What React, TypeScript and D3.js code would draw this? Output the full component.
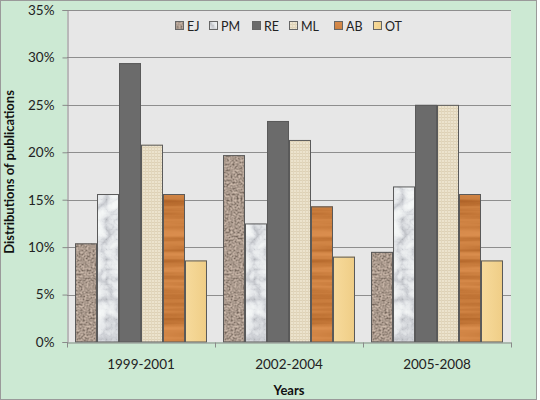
import * as d3 from 'd3';
import { useEffect, useRef } from 'react';

const years = ['1999-2001', '2002-2004', '2005-2008'];
const series = ['EJ', 'PM', 'RE', 'ML', 'AB', 'OT'];
const ejValues = [10.4, 19.7, 9.5];
const pmValues = [15.6, 12.5, 16.4];
const reValues = [29.4, 23.3, 25.0];
const mlValues = [20.8, 21.3, 25.0];
const abValues = [15.6, 14.3, 15.6];
const otValues = [8.6, 9.0, 8.6];
const yTicks = [0, 5, 10, 15, 20, 25, 30, 35];

const values: Record<string, number[]> = {
  EJ: ejValues,
  PM: pmValues,
  RE: reValues,
  ML: mlValues,
  AB: abValues,
  OT: otValues,
};

const FONT = 'Lato, "Open Sans", sans-serif';

const App = () => {
  const ref = useRef<SVGSVGElement | null>(null);

  useEffect(() => {
    const width = 540;
    const height = 400;
    const margin = { top: 10, right: 29, bottom: 58, left: 67 };

    const svg = d3.select(ref.current).attr('width', width).attr('height', height);
    svg.selectAll('*').remove();

    const defs = svg.append('defs');

    // textured fills, built from svg noise filters
    const noiseFilter = (
      id: string,
      type: string,
      freq: string,
      octaves: number,
      r: string,
      g: string,
      b: string,
    ) => {
      const f = defs
        .append('filter')
        .attr('id', id)
        .attr('color-interpolation-filters', 'sRGB')
        .attr('x', '-5%')
        .attr('y', '-5%')
        .attr('width', '110%')
        .attr('height', '110%');
      f.append('feTurbulence')
        .attr('type', type)
        .attr('baseFrequency', freq)
        .attr('numOctaves', octaves)
        .attr('seed', 3)
        .attr('result', 'noise');
      f.append('feColorMatrix').attr('type', 'saturate').attr('values', 0).attr('result', 'grey');
      const ct = f.append('feComponentTransfer').attr('result', 'col');
      ct.append('feFuncR').attr('type', 'table').attr('tableValues', r);
      ct.append('feFuncG').attr('type', 'table').attr('tableValues', g);
      ct.append('feFuncB').attr('type', 'table').attr('tableValues', b);
      ct.append('feFuncA').attr('type', 'linear').attr('slope', 0).attr('intercept', 1);
      f.append('feComposite').attr('in', 'col').attr('in2', 'SourceGraphic').attr('operator', 'in');
    };

    noiseFilter('granite', 'fractalNoise', '0.5', 3,
      '0.38 0.38 0.46 0.61 0.73 0.8 0.84 0.84',
      '0.33 0.33 0.4 0.55 0.66 0.73 0.77 0.77',
      '0.29 0.29 0.36 0.5 0.61 0.67 0.71 0.71');
    noiseFilter('marble', 'turbulence', '0.05', 4,
      '0.7 0.8 0.9 0.95 0.97 0.98 0.98',
      '0.71 0.81 0.91 0.96 0.98 0.98 0.98',
      '0.73 0.83 0.92 0.96 0.98 0.99 0.99');
    noiseFilter('wood', 'fractalNoise', '0.006 0.13', 3,
      '0.66 0.66 0.72 0.8 0.85 0.87 0.87',
      '0.36 0.36 0.42 0.5 0.55 0.57 0.57',
      '0.14 0.14 0.18 0.25 0.3 0.32 0.32');

    const canvas = defs
      .append('pattern')
      .attr('id', 'canvas')
      .attr('patternUnits', 'userSpaceOnUse')
      .attr('width', 3)
      .attr('height', 3);
    canvas.append('rect').attr('width', 3).attr('height', 3).attr('fill', '#ece3cd');
    canvas.append('rect').attr('width', 3).attr('height', 1).attr('fill', '#ddd1b6');
    canvas.append('rect').attr('width', 1).attr('height', 3).attr('fill', '#e2d6bc');

    const paper = defs
      .append('linearGradient')
      .attr('id', 'paper')
      .attr('x1', 0)
      .attr('x2', 1)
      .attr('y1', 0)
      .attr('y2', 0);
    paper.append('stop').attr('offset', '0%').attr('stop-color', '#f6da9c');
    paper.append('stop').attr('offset', '50%').attr('stop-color', '#f3d491');
    paper.append('stop').attr('offset', '100%').attr('stop-color', '#efcd86');

    const style: Record<string, { fill: string; filter?: string }> = {
      EJ: { fill: '#9a8b7c', filter: 'url(#granite)' },
      PM: { fill: '#f0f0f0', filter: 'url(#marble)' },
      RE: { fill: '#6b6b6b' },
      ML: { fill: 'url(#canvas)' },
      AB: { fill: '#cc7d3e', filter: 'url(#wood)' },
      OT: { fill: 'url(#paper)' },
    };

    // chart background
    svg
      .append('rect')
      .attr('x', 0.5)
      .attr('y', 0.5)
      .attr('width', 536)
      .attr('height', 399)
      .attr('fill', '#cce9d3')
      .attr('stroke', '#9a9a9a');

    const x0 = d3
      .scaleBand()
      .domain(years)
      .range([margin.left, width - margin.right])
      .padding(0);
    const x1 = d3
      .scaleBand()
      .domain(series)
      .range([0, x0.bandwidth()])
      .paddingInner(0)
      .paddingOuter(0.364);
    const y = d3
      .scaleLinear()
      .domain([0, 35])
      .range([height - margin.bottom, margin.top]);

    const plotW = width - margin.right - margin.left;

    svg
      .append('rect')
      .attr('x', margin.left)
      .attr('y', margin.top)
      .attr('width', plotW)
      .attr('height', y(0) - margin.top)
      .attr('fill', '#e7e7e7');

    // gridlines
    svg
      .append('g')
      .selectAll('line')
      .data(yTicks.slice(1))
      .join('line')
      .attr('x1', margin.left)
      .attr('x2', width - margin.right)
      .attr('y1', (d) => Math.round(y(d)) + 0.5)
      .attr('y2', (d) => Math.round(y(d)) + 0.5)
      .attr('stroke', '#8e8e8e')
      .attr('stroke-width', 1);

    // bars
    const groups = svg
      .append('g')
      .selectAll('g')
      .data(years)
      .join('g')
      .attr('transform', (d) => `translate(${x0(d)},0)`);

    series.forEach((s) => {
      groups
        .append('rect')
        .attr('x', x1(s)!)
        .attr('y', (_d, i) => y(values[s][i]))
        .attr('width', x1.bandwidth())
        .attr('height', (_d, i) => y(0) - y(values[s][i]))
        .attr('fill', style[s].fill)
        .attr('filter', style[s].filter ?? null);
      groups
        .append('rect')
        .attr('x', x1(s)! + 0.5)
        .attr('y', (_d, i) => y(values[s][i]) + 0.5)
        .attr('width', x1.bandwidth() - 1)
        .attr('height', (_d, i) => y(0) - y(values[s][i]) - 0.5)
        .attr('fill', 'none')
        .attr('stroke', '#5a5a5a')
        .attr('stroke-width', 1);
    });

    // axes
    const yAxis = svg
      .append('g')
      .attr('transform', `translate(${margin.left + 0.5},0)`)
      .call(
        d3
          .axisLeft(y)
          .tickValues(yTicks)
          .tickSize(5)
          .tickPadding(8)
          .tickFormat((d) => `${d}%`),
      );
    yAxis.select('.domain').attr('stroke', '#8a8a8a');
    yAxis.selectAll('.tick line').attr('stroke', '#8a8a8a');
    yAxis
      .selectAll('.tick text')
      .attr('font-family', FONT)
      .attr('font-size', 13.5)
      .attr('fill', '#222');

    const xAxis = svg
      .append('g')
      .attr('transform', `translate(0,${Math.round(y(0)) + 0.5})`)
      .call(d3.axisBottom(x0).tickSize(0).tickPadding(17));
    xAxis.select('.domain').attr('stroke', '#8a8a8a');
    xAxis
      .selectAll('.tick text')
      .attr('font-family', FONT)
      .attr('font-size', 13.5)
      .attr('fill', '#222');
    // category boundary ticks
    xAxis
      .append('g')
      .selectAll('line')
      .data(d3.range(years.length + 1))
      .join('line')
      .attr('x1', (i) => Math.round(margin.left + i * x0.step()) + 0.5)
      .attr('x2', (i) => Math.round(margin.left + i * x0.step()) + 0.5)
      .attr('y1', 0)
      .attr('y2', 5)
      .attr('stroke', '#8a8a8a');

    // axis titles
    svg
      .append('text')
      .attr('transform', `translate(14,${(margin.top + y(0)) / 2 - 4}) rotate(-90)`)
      .attr('text-anchor', 'middle')
      .attr('font-family', FONT)
      .attr('font-weight', 'bold')
      .attr('font-size', 13)
      .attr('fill', '#111')
      .text('Distributions of publications');

    svg
      .append('text')
      .attr('x', margin.left + plotW / 2)
      .attr('y', 395)
      .attr('text-anchor', 'middle')
      .attr('font-family', FONT)
      .attr('font-weight', 'bold')
      .attr('font-size', 13)
      .attr('fill', '#111')
      .text('Years');

    // legend
    const legendX = [175, 209, 252, 289, 334, 373];
    const legend = svg
      .append('g')
      .selectAll('g')
      .data(series)
      .join('g')
      .attr('transform', (_d, i) => `translate(${legendX[i]},21)`);
    legend
      .append('rect')
      .attr('width', 9)
      .attr('height', 9)
      .attr('fill', (d) => style[d].fill)
      .attr('filter', (d) => style[d].filter ?? null);
    legend
      .append('rect')
      .attr('x', 0.5)
      .attr('y', 0.5)
      .attr('width', 8)
      .attr('height', 8)
      .attr('fill', 'none')
      .attr('stroke', '#666');
    legend
      .append('text')
      .attr('x', 12)
      .attr('y', 9.5)
      .attr('font-family', FONT)
      .attr('font-size', 12.5)
      .attr('fill', '#222')
      .text((d) => d);
  }, []);

  return <svg ref={ref} style={{ position: 'absolute', left: 0, top: 0 }}></svg>;
};

export default App;
